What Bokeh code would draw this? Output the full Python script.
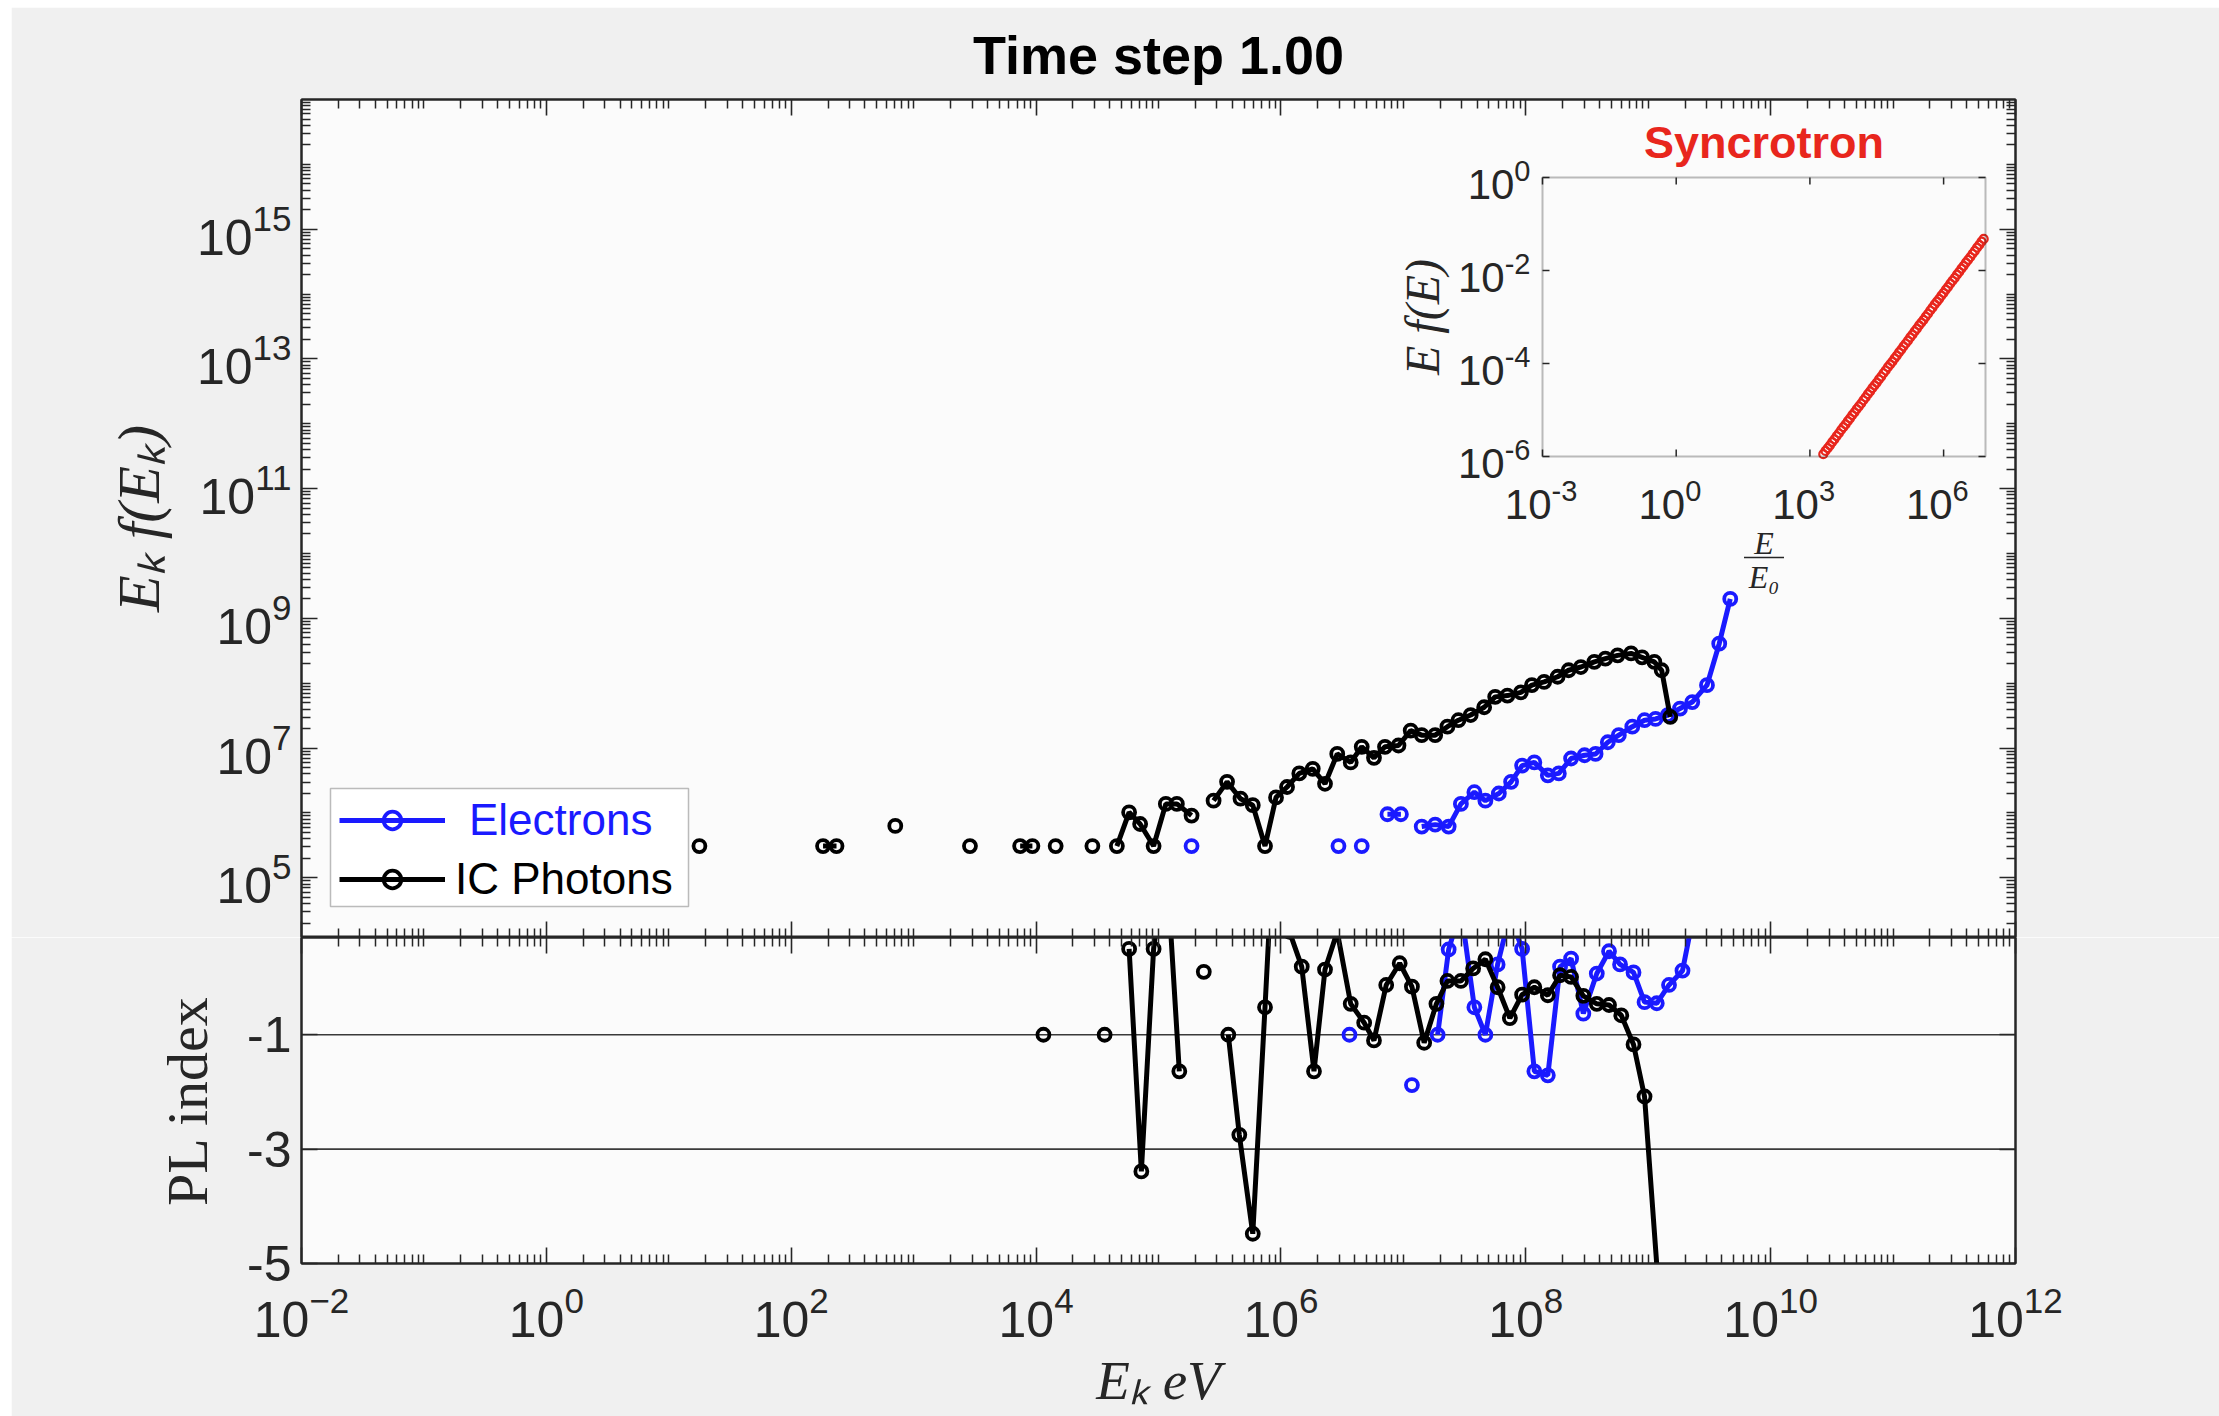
import math
import numpy as np
from bokeh.plotting import figure
from bokeh.models import (LogAxis, LinearAxis, FixedTicker, Range1d, LogScale, CustomJSTickFormatter,
                          Legend, LegendItem, Span, BoxAnnotation, ColumnDataSource)
from bokeh.layouts import column
from bokeh.embed import file_html
from bokeh.resources import INLINE
from bokeh.core.properties import value

nan = float("nan")

# ------------------------------------------------------------------ data
title_text = "Time step 1.00"
inset_title = "Syncrotron"

x_tick_exp = [-2, 0, 2, 4, 6, 8, 10, 12]          # 10^k eV
spec_tick_exp = [5, 7, 9, 11, 13, 15]              # 10^k
pl_ticks = [-5, -3, -1]
pl_ref_levels = [-1, -3]
x_lim_exp = (-2.0, 12.0)
spec_lim_exp = (4.08, 17.0)
pl_lim = (-5.0, 0.7)

# IC photons spectrum: log10(E_k/eV), log10(E_k f(E_k)); nan = empty bin
ic_logE = [1.25, 1.35, 2.26, 2.37, 2.47, 2.85, 2.95, 3.46, 3.56, 3.87, 3.97, 4.06, 4.16, 4.26, 4.46, 4.56,
           4.66, 4.76, 4.85, 4.96, 5.06, 5.15, 5.27, 5.36,
           5.45, 5.56, 5.67, 5.77, 5.87, 5.96, 6.05, 6.15, 6.26, 6.36, 6.46, 6.57, 6.66, 6.76,
           6.85, 6.96, 7.06, 7.15, 7.26, 7.36, 7.45, 7.55, 7.66, 7.75, 7.85, 7.96, 8.05, 8.15,
           8.26, 8.35, 8.45, 8.56, 8.65, 8.75, 8.86, 8.95, 9.05, 9.11, 9.18]
ic_logF = [5.49, nan, 5.49, 5.49, nan, 5.80, nan, 5.49, nan, 5.49, 5.49, nan, 5.49, nan, 5.49, nan,
           5.49, 6.01, 5.83, 5.49, 6.14, 6.14, 5.96, nan,
           6.19, 6.48, 6.22, 6.12, 5.49, 6.24, 6.40, 6.61, 6.68, 6.45, 6.91, 6.78, 7.02, 6.85,
           7.02, 7.04, 7.27, 7.20, 7.20, 7.33, 7.43, 7.51, 7.63, 7.79, 7.81, 7.86, 7.97, 8.02,
           8.10, 8.20, 8.25, 8.33, 8.38, 8.43, 8.46, 8.40, 8.33, 8.20, 7.48]

# Electrons spectrum
el_logE = [5.27, 5.37, 6.47, 6.57, 6.66, 6.76, 6.87, 6.98, 7.06,
           7.15, 7.26, 7.37, 7.47, 7.58, 7.67, 7.78, 7.88, 7.97, 8.07, 8.18, 8.27, 8.37,
           8.48, 8.57, 8.67, 8.76, 8.87, 8.97, 9.06, 9.16, 9.26, 9.36, 9.48, 9.58, 9.67]
el_logF = [5.49, nan, 5.49, nan, 5.49, nan, 5.98, 5.98, nan,
           5.79, 5.82, 5.79, 6.14, 6.32, 6.19, 6.30, 6.48, 6.73, 6.78, 6.58, 6.61, 6.84,
           6.89, 6.91, 7.09, 7.20, 7.33, 7.43, 7.45, 7.51, 7.61, 7.71, 7.97, 8.61, 9.30]

# Power-law index, IC photons
ic_pl_logE = [4.06, 4.16, 4.56, 4.66, 4.76, 4.86, 4.96, 5.06, 5.17, 5.27, 5.37, 5.47,
              5.57, 5.66, 5.77, 5.87, 5.96, 6.07, 6.17, 6.27, 6.36, 6.46, 6.57, 6.68, 6.76,
              6.86, 6.97, 7.07, 7.17, 7.27, 7.36, 7.47, 7.57, 7.67, 7.77, 7.87, 7.97, 8.07,
              8.18, 8.28, 8.37, 8.47, 8.58, 8.68, 8.78, 8.88, 8.97, 9.12]
ic_pl = [-1.0, nan, -1.0, nan, 0.50, -3.39, 0.50, 2.2, -1.64, nan, 0.10, nan,
         -1.0, -2.75, -4.48, -0.52, 3.2, 0.8, 0.19, -1.64, 0.14, 0.8, -0.46, -0.79, -1.10,
         -0.13, 0.25, -0.16, -1.14, -0.46, -0.06, -0.06, 0.16, 0.32, -0.17, -0.71, -0.30, -0.17,
         -0.31, 0.04, 0.01, -0.32, -0.46, -0.48, -0.66, -1.17, -2.08, -6.5]

# Power-law index, electrons
el_pl_logE = [6.56, 6.66, 7.07, 7.17,
              7.28, 7.37, 7.47, 7.58, 7.67, 7.77, 7.87, 7.97, 8.07, 8.18, 8.28, 8.37, 8.47,
              8.58, 8.68, 8.77, 8.88, 8.97, 9.07, 9.17, 9.28, 9.38]
el_pl = [-1.0, nan, -1.88, nan,
         -1.0, 0.49, 1.2, -0.52, -1.0, 0.23, 1.1, 0.50, -1.64, -1.71, 0.19, 0.33, -0.63,
         0.07, 0.46, 0.23, 0.09, -0.43, -0.45, -0.13, 0.12, 1.2]

# Inset: synchrotron spectrum, log10(E/E0), log10(E f(E))
syn_logE = [3.30, 3.35, 3.40, 3.45, 3.50, 3.55, 3.60, 3.65, 3.70, 3.75, 3.80, 3.85, 3.90, 3.95,
            4.00, 4.05, 4.10, 4.15, 4.20, 4.25, 4.30, 4.35, 4.40, 4.45, 4.50, 4.55, 4.60, 4.65,
            4.70, 4.75, 4.80, 4.85, 4.90, 4.95, 5.00, 5.05, 5.10, 5.15, 5.20, 5.25, 5.30, 5.35,
            5.40, 5.45, 5.50, 5.55, 5.60, 5.65, 5.70, 5.75, 5.80, 5.85, 5.90, 5.95, 6.00, 6.05,
            6.10, 6.15, 6.20, 6.25, 6.30, 6.35, 6.40, 6.45, 6.50, 6.55, 6.60, 6.65, 6.70, 6.75,
            6.80, 6.85, 6.90]
syn_logF = [-5.95, -5.88, -5.82, -5.76, -5.69, -5.63, -5.56, -5.50, -5.43, -5.37, -5.31, -5.24, -5.18, -5.11,
            -5.05, -4.98, -4.92, -4.86, -4.79, -4.73, -4.66, -4.60, -4.53, -4.47, -4.41, -4.34, -4.28, -4.21,
            -4.15, -4.08, -4.02, -3.96, -3.89, -3.83, -3.76, -3.70, -3.63, -3.57, -3.51, -3.44, -3.38, -3.31,
            -3.25, -3.18, -3.12, -3.06, -2.99, -2.93, -2.86, -2.80, -2.73, -2.67, -2.61, -2.54, -2.48, -2.41,
            -2.35, -2.28, -2.22, -2.16, -2.09, -2.03, -1.96, -1.90, -1.83, -1.77, -1.71, -1.64, -1.58, -1.51,
            -1.45, -1.38, -1.32]
inset_x_tick_exp = [-3, 0, 3, 6]
inset_y_tick_exp = [-6, -4, -2, 0]
inset_x_lim_exp = (-3.0, 6.94)
inset_y_lim_exp = (-6.0, 0.0)

# ------------------------------------------------------------------ layout / style
PAGE_W, PAGE_H = 2219, 1416
OFF_X, OFF_Y = 11, 7
FIG_W = PAGE_W - OFF_X
FRAME_L, FRAME_R = 301, 2015
TOP_T, SPLIT, BOT_B = 99, 937, 1263
INS_L, INS_R, INS_T, INS_B = 1542, 1985, 177, 456

SANS = "Liberation Sans"
SERIF = "Liberation Serif"
BLUE = "#1a1aff"
BLACK = "#000000"
RED = "#e8261d"
AXIS = "#262626"
PANEL = "#fbfbfb"
FIG_BG = "#f0f0f0"

LW = 5.0        # series line width
MS = 12         # marker size
MLW = 3.8       # marker line width
TICK_FS = "50px"


def pow10(a):
    return [10.0 ** v for v in a]


def style_axis(ax, labels):
    ax.major_tick_in = 16
    ax.major_tick_out = 0
    ax.minor_tick_in = 9
    ax.minor_tick_out = 0
    ax.major_tick_line_width = 1.6
    ax.minor_tick_line_width = 1.5
    ax.major_tick_line_color = AXIS
    ax.minor_tick_line_color = AXIS
    ax.axis_line_width = 2
    ax.axis_line_color = AXIS
    if labels:
        ax.major_label_text_font = SANS
        ax.major_label_text_font_size = TICK_FS
        ax.major_label_text_color = AXIS
    else:
        ax.formatter = CustomJSTickFormatter(code="return ''")
        ax.major_label_text_font_size = "1px"
        ax.major_label_standoff = 0


x_major = pow10(x_tick_exp)
x_minor = [k * 10.0 ** e for e in range(-2, 12) for k in range(1, 10)
           if not (k == 1 and e in x_tick_exp)]
spec_major = pow10(spec_tick_exp)
spec_minor = [k * 10.0 ** e for e in range(4, 17) for k in range(1, 10)
              if not (k == 1 and e in spec_tick_exp)
              and 10.0 ** spec_lim_exp[0] <= k * 10.0 ** e <= 10.0 ** spec_lim_exp[1]]


def x_ticker():
    return FixedTicker(ticks=x_major, minor_ticks=x_minor)


# ------------------------------------------------------------------ top panel
x_range = Range1d(10.0 ** x_lim_exp[0], 10.0 ** x_lim_exp[1])
p = figure(width=FIG_W, height=SPLIT - OFF_Y, x_axis_type="log", y_axis_type="log",
           x_range=x_range,
           y_range=Range1d(10.0 ** spec_lim_exp[0], 10.0 ** spec_lim_exp[1]),
           x_axis_location=None, y_axis_location="left",
           min_border_left=FRAME_L - OFF_X, min_border_right=PAGE_W - FRAME_R,
           min_border_top=TOP_T - OFF_Y, min_border_bottom=0,
           toolbar_location=None, output_backend="svg", title=title_text)
p.background_fill_color = PANEL
p.border_fill_color = FIG_BG
p.outline_line_color = AXIS
p.outline_line_width = 2
p.grid.visible = False
p.title.align = "center"
p.title.text_font = SANS
p.title.text_font_size = "54px"
p.title.text_font_style = "bold"
p.title.text_color = BLACK
p.title.standoff = 30

ya = p.yaxis[0]
ya.ticker = FixedTicker(ticks=spec_major, minor_ticks=spec_minor)
style_axis(ya, True)
ya.major_label_standoff = 10
ya.axis_label = "Eₖ f(Eₖ)"
ya.axis_label_text_font = SERIF
ya.axis_label_text_font_style = "italic"
ya.axis_label_text_font_size = "60px"
ya.axis_label_text_color = AXIS
ya.axis_label_standoff = 22

for loc in ("below", "above"):
    ax = LogAxis(ticker=x_ticker())
    style_axis(ax, False)
    p.add_layout(ax, loc)
ra = LogAxis(ticker=FixedTicker(ticks=spec_major, minor_ticks=spec_minor))
style_axis(ra, False)
p.add_layout(ra, "right")

el_src = ColumnDataSource(dict(x=pow10(el_logE), y=pow10(el_logF)))
ic_src = ColumnDataSource(dict(x=pow10(ic_logE), y=pow10(ic_logF)))
e_line = p.line("x", "y", source=el_src, line_color=BLUE, line_width=LW)
e_pts = p.scatter("x", "y", source=el_src, marker="circle", size=MS, line_color=BLUE,
                  line_width=MLW, fill_color=None)
i_line = p.line("x", "y", source=ic_src, line_color=BLACK, line_width=LW)
i_pts = p.scatter("x", "y", source=ic_src, marker="circle", size=MS, line_color=BLACK,
                  line_width=MLW, fill_color=None)


# legend frame (pixel layout converted to data space of the top panel)
def px_to_x(px):
    f = (px - FRAME_L) / (FRAME_R - FRAME_L)
    return 10.0 ** (x_lim_exp[0] + f * (x_lim_exp[1] - x_lim_exp[0]))


def px_to_y(py):
    f = (SPLIT - py) / (SPLIT - TOP_T)
    return 10.0 ** (spec_lim_exp[0] + f * (spec_lim_exp[1] - spec_lim_exp[0]))


p.add_layout(BoxAnnotation(left=px_to_x(330), right=px_to_x(688), bottom=px_to_y(906), top=px_to_y(788),
                           fill_color="#ffffff", fill_alpha=1.0, line_color=AXIS, line_width=1.5))

for label, rends, color, ybot, stand in (("Electrons", [e_line, e_pts], BLUE, SPLIT - 845, 24),
                                         ("IC Photons", [i_line, i_pts], BLACK, SPLIT - 904, 10)):
    lg = Legend(items=[LegendItem(label=label, renderers=rends)], location=(339 - FRAME_L, ybot))
    lg.border_line_color = None
    lg.background_fill_alpha = 0
    lg.padding = 0
    lg.spacing = 0
    lg.margin = 0
    lg.glyph_width = 106
    lg.glyph_height = 44
    lg.label_height = 44
    lg.label_standoff = stand
    lg.label_text_font = SANS
    lg.label_text_font_size = "44px"
    lg.label_text_color = color
    lg.label_text_baseline = "middle"
    p.add_layout(lg)

# ------------------------------------------------------------------ inset (drawn in own log ranges)
ix_per_px = (inset_x_lim_exp[1] - inset_x_lim_exp[0]) / (INS_R - INS_L)
iy_per_px = (inset_y_lim_exp[1] - inset_y_lim_exp[0]) / (INS_B - INS_T)
ix0 = inset_x_lim_exp[0] - (INS_L - FRAME_L) * ix_per_px
ix1 = inset_x_lim_exp[1] + (FRAME_R - INS_R) * ix_per_px
iy1 = inset_y_lim_exp[1] + (INS_T - TOP_T) * iy_per_px
iy0 = inset_y_lim_exp[0] - (SPLIT - INS_B) * iy_per_px
p.extra_x_ranges = {"ix": Range1d(10.0 ** ix0, 10.0 ** ix1)}
p.extra_x_scales = {"ix": LogScale()}
p.extra_y_ranges = {"iy": Range1d(10.0 ** iy0, 10.0 ** iy1)}
p.extra_y_scales = {"iy": LogScale()}
IR = dict(x_range_name="ix", y_range_name="iy")

ixmin, ixmax = 10.0 ** inset_x_lim_exp[0], 10.0 ** inset_x_lim_exp[1]
iymin, iymax = 10.0 ** inset_y_lim_exp[0], 10.0 ** inset_y_lim_exp[1]
ixc = 10.0 ** ((inset_x_lim_exp[0] + inset_x_lim_exp[1]) / 2)

syn_src = ColumnDataSource(dict(x=pow10(syn_logE), y=pow10(syn_logF)))
p.scatter("x", "y", source=syn_src, marker="circle", size=8, line_color=RED, line_width=2.2,
          fill_color=None, **IR)

p.add_layout(BoxAnnotation(left=ixmin, right=ixmax, bottom=iymin, top=iymax, fill_alpha=0,
                           line_color=AXIS, line_width=2, **IR))

ixt = pow10(inset_x_tick_exp)
iyt = pow10(inset_y_tick_exp)
tick_kw = dict(length=7, length_units="screen", line_color=AXIS, line_width=1.5, **IR)
p.ray(x=ixt, y=[iymin] * len(ixt), angle=math.pi / 2, **tick_kw)
p.ray(x=ixt, y=[iymax] * len(ixt), angle=-math.pi / 2, **tick_kw)
p.ray(x=[ixmin] * len(iyt), y=iyt, angle=0.0, **tick_kw)
p.ray(x=[ixmax] * len(iyt), y=iyt, angle=math.pi, **tick_kw)

BASE_FS, EXP_FS = 42, 29


def exp_width(s):
    return sum((0.333 if c == "-" else 0.556) * EXP_FS for c in s)


ix_exp_txt = [str(e) for e in inset_x_tick_exp]
p.text(x=ixt, y=[iymin] * len(ixt), text=["10"] * len(ixt), x_offset=9, y_offset=48,
       text_align="right", text_baseline="middle", text_font=value(SANS),
       text_font_size=value(f"{BASE_FS}px"), text_color=AXIS, **IR)
p.text(x=ixt, y=[iymin] * len(ixt), text=ix_exp_txt, x_offset=9, y_offset=34,
       text_align="left", text_baseline="middle", text_font=value(SANS),
       text_font_size=value(f"{EXP_FS}px"), text_color=AXIS, **IR)

iy_exp_txt = [str(e) for e in inset_y_tick_exp]
p.text(x=[ixmin] * len(iyt), y=iyt, text=iy_exp_txt, x_offset=-12, y_offset=-7,
       text_align="right", text_baseline="middle", text_font=value(SANS),
       text_font_size=value(f"{EXP_FS}px"), text_color=AXIS, **IR)
p.text(x=[ixmin] * len(iyt), y=iyt, text=["10"] * len(iyt),
       x_offset=[-12 - exp_width(s) for s in iy_exp_txt], y_offset=7,
       text_align="right", text_baseline="middle", text_font=value(SANS),
       text_font_size=value(f"{BASE_FS}px"), text_color=AXIS, **IR)

p.text(x=[ixc], y=[iymax], text=[inset_title], y_offset=-35, text_align="center",
       text_baseline="middle", text_font=value(SANS), text_font_size=value("45px"),
       text_font_style="bold", text_color=RED, **IR)
p.text(x=[ixmin], y=[10.0 ** ((inset_y_lim_exp[0] + inset_y_lim_exp[1]) / 2)], text=["E f(E)"],
       x_offset=-(INS_L - 1422), angle=math.pi / 2, text_align="center", text_baseline="middle",
       text_font=value(SERIF), text_font_style="italic", text_font_size=value("48px"),
       text_color=AXIS, **IR)
p.text(x=[ixc, ixc], y=[iymin, iymin], text=["E", "E₀"], y_offset=[86, 120], text_align="center",
       text_baseline="middle", text_font=value(SERIF), text_font_style="italic",
       text_font_size=value("32px"), text_color=AXIS, **IR)
p.scatter(x=[ixc], y=[10.0 ** (inset_y_lim_exp[0] - 101 * iy_per_px)], marker="dash", size=40,
          line_color=AXIS, line_width=1.6, **IR)

# ------------------------------------------------------------------ bottom panel
q = figure(width=FIG_W, height=PAGE_H - SPLIT, x_axis_type="log", x_range=x_range,
           y_range=Range1d(*pl_lim), x_axis_location="below", y_axis_location="left",
           min_border_left=FRAME_L - OFF_X, min_border_right=PAGE_W - FRAME_R,
           min_border_top=0, min_border_bottom=PAGE_H - BOT_B,
           toolbar_location=None, output_backend="svg")
q.background_fill_color = PANEL
q.border_fill_color = FIG_BG
q.outline_line_color = AXIS
q.outline_line_width = 2
q.grid.visible = False

xa = q.xaxis[0]
xa.ticker = x_ticker()
style_axis(xa, True)
xa.major_label_standoff = 22
xa.axis_label = "Eₖ eV"
xa.axis_label_text_font = SERIF
xa.axis_label_text_font_style = "italic"
xa.axis_label_text_font_size = "55px"
xa.axis_label_text_color = AXIS
xa.axis_label_standoff = 10

qa = q.yaxis[0]
qa.ticker = FixedTicker(ticks=pl_ticks, minor_ticks=[])
style_axis(qa, True)
qa.formatter = CustomJSTickFormatter(code="return tick.toString()")
qa.major_label_standoff = 10
qa.axis_label = "PL index"
qa.axis_label_text_font = SERIF
qa.axis_label_text_font_style = "normal"
qa.axis_label_text_font_size = "58px"
qa.axis_label_text_color = AXIS
qa.axis_label_standoff = 24

ta = LogAxis(ticker=x_ticker())
style_axis(ta, False)
q.add_layout(ta, "above")
rq = LinearAxis(ticker=FixedTicker(ticks=pl_ticks, minor_ticks=[]))
style_axis(rq, False)
q.add_layout(rq, "right")

for lv in pl_ref_levels:
    q.add_layout(Span(location=lv, dimension="width", line_color="#3a3a3a", line_width=1.6,
                      level="underlay"))

el_pl_src = ColumnDataSource(dict(x=pow10(el_pl_logE), y=el_pl))
ic_pl_src = ColumnDataSource(dict(x=pow10(ic_pl_logE), y=ic_pl))
q.line("x", "y", source=el_pl_src, line_color=BLUE, line_width=LW)
q.scatter("x", "y", source=el_pl_src, marker="circle", size=MS, line_color=BLUE, line_width=MLW,
          fill_color=None)
q.line("x", "y", source=ic_pl_src, line_color=BLACK, line_width=LW)
q.scatter("x", "y", source=ic_pl_src, marker="circle", size=MS, line_color=BLACK, line_width=MLW,
          fill_color=None)

layout = column(p, q, margin=(OFF_Y, 0, 0, OFF_X))
open("out.html", "w").write(file_html(layout, INLINE))
